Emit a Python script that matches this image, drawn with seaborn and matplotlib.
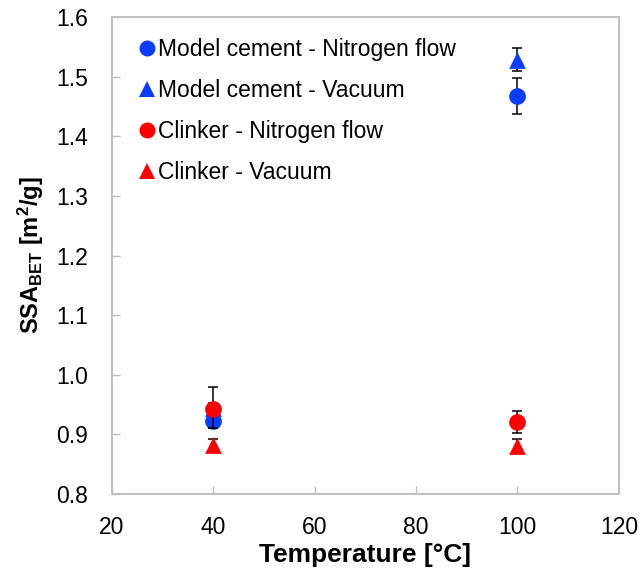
import matplotlib
matplotlib.use("Agg")
import matplotlib.pyplot as plt
from matplotlib.lines import Line2D
import seaborn as sns
import pandas as pd

# Specific surface area (BET) after drying at two temperatures
temperature = [40, 100]
series_names = [
    "Model cement - Nitrogen flow",
    "Model cement - Vacuum",
    "Clinker - Nitrogen flow",
    "Clinker - Vacuum",
]
mc_nitrogen = [0.923, 1.468]
mc_nitrogen_err = [0.013, 0.030]
mc_vacuum = [0.945, 1.529]
mc_vacuum_err = [0.035, 0.019]
cl_nitrogen = [0.942, 0.921]
cl_nitrogen_err = [0.010, 0.018]
cl_vacuum = [0.883, 0.881]
cl_vacuum_err = [0.010, 0.011]

values = [mc_nitrogen, mc_vacuum, cl_nitrogen, cl_vacuum]
errors = [mc_nitrogen_err, mc_vacuum_err, cl_nitrogen_err, cl_vacuum_err]
colors = ["#0A3CFF", "#0A3CFF", "#FF0000", "#FF0000"]
markers = ["o", "^", "o", "^"]

x_ticks = [20, 40, 60, 80, 100, 120]
y_ticks = [0.8, 0.9, 1.0, 1.1, 1.2, 1.3, 1.4, 1.5, 1.6]

sns.set_theme(style="white")
plt.rcParams["font.family"] = ["Liberation Sans", "DejaVu Sans"]
plt.rcParams["mathtext.default"] = "regular"
plt.rcParams["text.color"] = "black"
plt.rcParams["axes.labelcolor"] = "black"

fig = plt.figure(figsize=(6.42, 5.72), dpi=100)
ax = fig.add_axes([0.174, 0.1364, 0.790, 0.8333])

spine_color = "#BFBFBF"
for i, (name, vals, errs) in enumerate(zip(series_names, values, errors)):
    df = pd.DataFrame({"T": temperature, "SSA": vals})
    ax.errorbar(df["T"], df["SSA"], yerr=errs, fmt="none", ecolor="black",
                elinewidth=1.1, capsize=3.8, capthick=1.1, zorder=2 + 2 * i)
    sns.scatterplot(data=df, x="T", y="SSA", ax=ax, color=colors[i],
                    marker=markers[i], s=145, linewidth=0, legend=False,
                    zorder=3 + 2 * i)

ax.set_xlim(20, 120)
ax.set_ylim(0.8, 1.6)
ax.set_xticks(x_ticks)
ax.set_xticklabels([str(t) for t in x_ticks])
ax.set_yticks(y_ticks)
ax.set_yticklabels([f"{t:.1f}" for t in y_ticks])

for sp in ax.spines.values():
    sp.set_visible(True)
    sp.set_color(spine_color)
    sp.set_linewidth(1.4)

ax.tick_params(axis="both", which="major", direction="in", length=6,
               width=1.0, color=spine_color, labelsize=16.5,
               labelcolor="black")
ax.tick_params(axis="x", pad=16, bottom=True, top=False)
ax.tick_params(axis="y", pad=17, left=True, right=False)

ax.set_xlabel("Temperature [°C]", fontsize=19, fontweight="bold", labelpad=3,
              color="black")
ax.set_ylabel("SSA$_{BET}$ [m$^2$/g]", fontsize=17, fontweight="bold",
              labelpad=7, color="black")

handles = [Line2D([0], [0], linestyle="none", marker=m, color=c,
                  markersize=11.5, markeredgewidth=0)
           for m, c in zip(markers, colors)]
leg = ax.legend(handles, series_names, loc="upper left",
                bbox_to_anchor=(0.033, 0.975), frameon=False, fontsize=16.5,
                handlelength=0.78, handletextpad=0.12, labelspacing=0.78,
                borderaxespad=0.0)
for t in leg.get_texts():
    t.set_color("black")

fig.savefig("out.png", dpi=100)
